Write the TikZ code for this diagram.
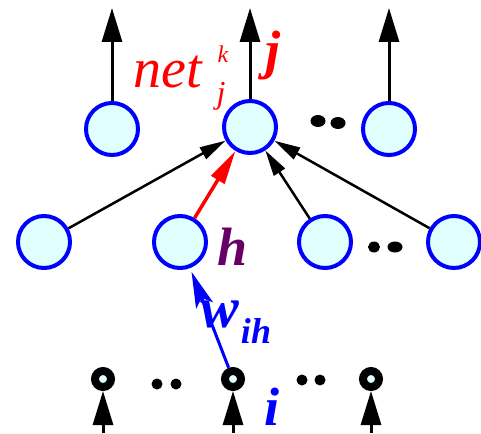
\documentclass[tikz,border=0pt]{standalone}
\usepackage{fontspec}
\setmainfont{Liberation Serif}
\usetikzlibrary{arrows.meta}

\definecolor{nodefill}{rgb}{0.88,1,1}
\definecolor{hcolor}{rgb}{0.4,0,0.4}

\begin{document}
\begin{tikzpicture}[x=1pt, y=-1pt,
        neuron/.style={circle, draw=blue, fill=nodefill, line width=4pt, minimum size=52pt, inner sep=0pt},
        innode/.style={circle, draw=black, fill=nodefill, line width=8pt, minimum size=16pt, inner sep=0pt},
        bigarrow/.style={line width=3pt, -{Triangle[length=34pt, width=20pt]}},
        link/.style={line width=2.5pt, -{Triangle[length=26pt, width=13pt]}},
        lbl/.style={inner sep=0pt, anchor=base},
        bigfont/.style={font=\bfseries\itshape\fontsize{54}{60}\selectfont}]
        \useasboundingbox (0,0) rectangle (481,433);

        % output layer
        \node[neuron] (o1) at (112,129) {};
        \node[neuron] (j) at (250,127) {};
        \node[neuron] (o3) at (389,129) {};
        \coordinate (t1) at (112,8);
        \coordinate (t2) at (250,8);
        \coordinate (t3) at (389,8);
        \draw[bigarrow] (o1) -- (t1);
        \draw[bigarrow] (j) -- (t2);
        \draw[bigarrow] (o3) -- (t3);
        \fill (318,121) ellipse (7.5pt and 6pt);
        \fill (338,123) ellipse (7.5pt and 6pt);

        % hidden layer
        \node[neuron] (h1) at (44,242) {};
        \node[neuron] (h) at (180,242) {};
        \node[neuron] (h3) at (325,242) {};
        \node[neuron] (h4) at (454,242) {};
        \fill (374,247) ellipse (6pt and 5.5pt);
        \fill (395,247) ellipse (7.5pt and 5.5pt);

        % input layer
        \node[innode] (i1) at (103,379) {};
        \node[innode] (i) at (233,379) {};
        \node[innode] (i3) at (371,379) {};
        \coordinate (b1) at (103,433);
        \coordinate (b2) at (233,433);
        \coordinate (b3) at (371,433);
        \draw[bigarrow] (b1) -- (i1);
        \draw[bigarrow] (b2) -- (i);
        \draw[bigarrow] (b3) -- (i3);
        \fill (157,384) circle (5.5pt);
        \fill (176,384) circle (5.5pt);
        \fill (302,380) circle (5.5pt);
        \fill (320,380) circle (5.5pt);

        % weights
        \draw[link] (h1) -- (j);
        \draw[link] (h3) -- (j);
        \draw[link] (h4) -- (j);
        \draw[red, line width=3.5pt, -{Triangle[length=34pt, width=15pt]}] (h) -- (j);
        \draw[blue, line width=3pt, -{Stealth[length=36pt, width=18pt, inset=8pt]}, shorten >=4pt] (i) -- (h);

        % labels
        \node[lbl, red, font=\itshape\fontsize{56}{60}\selectfont] (net) at (168,88) {net};
        \node[lbl, red, font=\itshape\fontsize{24}{28}\selectfont] (netk) at (223,63) {k};
        \node[lbl, red, font=\itshape\fontsize{32}{36}\selectfont] (netj) at (221,103) {j};
        \node[lbl, red, bigfont] (jlbl) at (273,69) {j};
        \node[lbl, hcolor, bigfont] (hlbl) at (233,265) {h};
        \node[lbl, blue, font=\bfseries\itshape\fontsize{58}{60}\selectfont] (w) at (220,327) {w};
        \node[lbl, blue, font=\bfseries\itshape\fontsize{36}{40}\selectfont] (wsub) at (256,343) {ih};
        \node[lbl, blue, bigfont] (ilbl) at (272,425) {i};
    \end{tikzpicture}
\end{document}
